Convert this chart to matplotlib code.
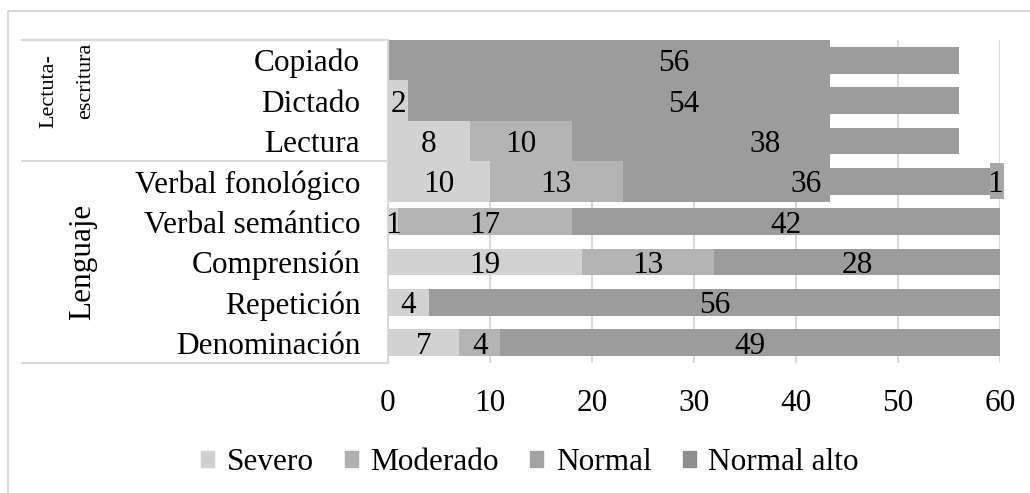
import numpy as np
import matplotlib.pyplot as plt
from matplotlib.patches import Rectangle, Patch
from matplotlib.lines import Line2D

plt.rcParams['font.family'] = ['Liberation Serif', 'DejaVu Serif']

categories = ["Copiado", "Dictado", "Lectura", "Verbal fonológico",
              "Verbal semántico", "Comprensión", "Repetición", "Denominación"]
severo = [0, 2, 8, 10, 1, 19, 4, 7]
moderado = [0, 0, 10, 13, 17, 13, 0, 4]
normal = [56, 54, 38, 36, 42, 28, 56, 49]
normal_alto = [0, 0, 0, 1, 0, 0, 0, 0]
series_names = ["Severo", "Moderado", "Normal", "Normal alto"]
groups = ["Lectuta-", "escritura", "Lenguaje"]

# gray block covering the top rows in the source picture
shade_end = 43.3

c_sev = '#d2d2d2'
c_mod = '#b4b4b4'
c_norm = '#9c9c9c'
c_alto = '#a6a6a6'
grid_c = '#d9d9d9'
fs = 22.5

W, H = 1030, 493
def fx(px):
    return px / W
def fy(py):
    return 1 - py / H

fig = plt.figure(figsize=(10.3, 4.93), dpi=100)
ax = fig.add_axes([fx(388), fy(363), (1000 - 388) / W, (363 - 40) / H])

y = np.arange(len(categories))
sev = np.array(severo)
mod = np.array(moderado)
nor = np.array(normal)
alt = np.array(normal_alto)

full_h = np.where(y < 4, 1.0, 0.66)
alto_h = np.where(y < 4, 0.89, 0.66)

ax.barh(y, nor, left=sev + mod, height=0.66, color=c_norm, lw=0, zorder=2)
ax.add_patch(Rectangle((0, -0.5), shade_end, 4, color=c_norm, lw=0, zorder=2.5))
ax.barh(y, sev, height=full_h, color=c_sev, lw=0, zorder=3)
ax.barh(y, mod, left=sev, height=full_h, color=c_mod, lw=0, zorder=3)
ax.barh(y, alt + 0.4 * (alt > 0), left=sev + mod + nor, height=alto_h,
        color=c_alto, lw=0, zorder=3, clip_on=False)

# value labels
lefts = [np.zeros(len(y)), sev, sev + mod, sev + mod + nor]
for vals, lft in zip([sev, mod, nor, alt], lefts):
    for i in range(len(y)):
        if vals[i] > 0:
            ax.text(lft[i] + vals[i] / 2, i, str(vals[i]), ha='center',
                    va='center_baseline', fontsize=fs, color='black', zorder=5)

ax.set_xlim(0, 60)
ax.set_ylim(7.5, -0.5)
ax.set_xticks(range(0, 61, 10))
ax.set_yticks(y)
ax.set_yticklabels(categories)
ax.tick_params(axis='both', length=0, labelsize=fs, colors='black')
ax.tick_params(axis='x', pad=19)
ax.tick_params(axis='y', pad=20)
ax.xaxis.grid(True, color=grid_c, lw=1.5)
ax.set_axisbelow(True)
for s in ['top', 'right', 'bottom']:
    ax.spines[s].set_visible(False)
ax.spines['left'].set_color(grid_c)
ax.spines['left'].set_linewidth(1.5)

# chart border and category group lines
fig.add_artist(Line2D([fx(8), fx(8), 1], [0, fy(11), fy(11)], color=grid_c, lw=1.5))
for py in (40, 161, 363):
    fig.add_artist(Line2D([fx(22), fx(387)], [fy(py), fy(py)], color=grid_c, lw=1.5))

# group labels
fig.text(fx(53), fy(91.5), groups[0], rotation=90, rotation_mode='anchor',
         ha='center', va='baseline', fontsize=16)
fig.text(fx(90), fy(81), groups[1], rotation=90, rotation_mode='anchor',
         ha='center', va='baseline', fontsize=16)
fig.text(fx(90), fy(262), groups[2], rotation=90, rotation_mode='anchor',
         ha='center', va='baseline', fontsize=fs)

handles = [Patch(color='#d0d0d0'), Patch(color='#b0b0b0'),
           Patch(color='#a3a3a3'), Patch(color='#8e8e8e')]
fig.legend(handles, series_names, loc='center', bbox_to_anchor=(fx(530), fy(463)),
           ncol=4, frameon=False, fontsize=fs, handlelength=0.42, handleheight=0.42,
           handletextpad=0.4, columnspacing=1.0, borderpad=0)

fig.savefig('out.png', dpi=100)
